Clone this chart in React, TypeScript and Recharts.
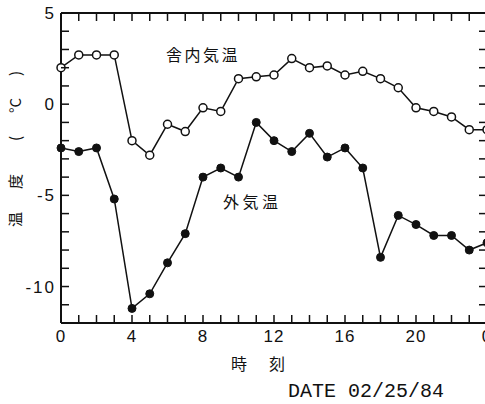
import React from "react";
import { LineChart, Line, XAxis, YAxis } from "recharts";

// hourly readings, 02/25/84
const hours = [0, 1, 2, 3, 4, 5, 6, 7, 8, 9, 10, 11, 12, 13, 14, 15, 16, 17, 18, 19, 20, 21, 22, 23, 24];
const insideTemp = [2.0, 2.7, 2.7, 2.7, -2.0, -2.8, -1.1, -1.5, -0.2, -0.4, 1.4, 1.5, 1.6, 2.5, 2.0, 2.1, 1.6, 1.8, 1.4, 0.9, -0.2, -0.4, -0.7, -1.4, -1.4];
const outsideTemp = [-2.4, -2.6, -2.4, -5.2, -11.2, -10.4, -8.7, -7.1, -4.0, -3.5, -4.0, -1.0, -2.0, -2.6, -1.6, -2.9, -2.4, -3.5, -8.4, -6.1, -6.6, -7.2, -7.2, -8.0, -7.6];

const hourTicks = [0, 1, 2, 3, 4, 5, 6, 7, 8, 9, 10, 11, 12, 13, 14, 15, 16, 17, 18, 19, 20, 21, 22, 23, 24];
const hourLabels: Record<number, string> = { 0: "0", 4: "4", 8: "8", 12: "12", 16: "16", 20: "20", 24: "0" };
const tempTicks = [-12, -11, -10, -9, -8, -7, -6, -5, -4, -3, -2, -1, 0, 1, 2, 3, 4, 5];
const tempLabels: Record<number, string> = { 5: "5", 0: "0", [-5]: "-5", [-10]: "-10" };

const data = hours.map((h, i) => ({ hour: h, inside: insideTemp[i], outside: outsideTemp[i] }));

const INK = "#111";
const numFont = "'Liberation Sans', Arial, sans-serif";
const jpFont = "'Noto Sans CJK JP', sans-serif";

const BottomTick = (props: any) => {
    const { x, y, payload } = props;
    const label = hourLabels[payload.value];
    return (
        <g>
            <line x1={x} x2={x} y1={y} y2={y - 8} stroke={INK} strokeWidth={1.5} />
            {label !== undefined && (
                <text x={x} y={y + 19} textAnchor="middle" fontSize={17} letterSpacing={1} fontFamily={numFont} fill={INK}>
                    {label}
                </text>
            )}
        </g>
    );
};

const TopTick = (props: any) => {
    const { x, y } = props;
    return <line x1={x} x2={x} y1={y} y2={y + 8} stroke={INK} strokeWidth={1.5} />;
};

const LeftTick = (props: any) => {
    const { x, y, payload } = props;
    const label = tempLabels[payload.value];
    return (
        <g>
            <line x1={x} x2={x + 8} y1={y} y2={y} stroke={INK} strokeWidth={1.5} />
            {label !== undefined && (
                <text x={x - 5} y={y + 6} textAnchor="end" fontSize={17} letterSpacing={2} fontFamily={numFont} fill={INK}>
                    {label}
                </text>
            )}
        </g>
    );
};

const RightTick = (props: any) => {
    const { x, y } = props;
    return <line x1={x} x2={x - 8} y1={y} y2={y} stroke={INK} strokeWidth={1.5} />;
};

const OpenDot = (props: any) => (
    <circle cx={props.cx} cy={props.cy} r={4} fill="#fff" stroke={INK} strokeWidth={1.5} />
);
const FilledDot = (props: any) => (
    <circle cx={props.cx} cy={props.cy} r={4} fill={INK} stroke={INK} strokeWidth={1} />
);

const abs = (left: number, top: number): React.CSSProperties => ({
    position: "absolute",
    left,
    top,
    whiteSpace: "pre",
    color: INK,
    lineHeight: 1,
});

export default function App() {
    return (
        <div style={{ position: "fixed", left: 0, top: 0, width: 485, height: 404, overflow: "hidden", background: "#fff" }}>
            <LineChart width={510} height={404} data={data} margin={{ top: 12, right: 22, bottom: 51, left: 0 }}>
                <XAxis
                    dataKey="hour"
                    type="number"
                    domain={[0, 24]}
                    ticks={hourTicks}
                    interval={0}
                    height={30}
                    tickSize={0}
                    tickMargin={0}
                    tick={<BottomTick />}
                    axisLine={{ stroke: INK, strokeWidth: 2 }}
                />
                {/* top/right axes need a size > 0 or recharts skips them */}
                <XAxis
                    xAxisId="top"
                    orientation="top"
                    dataKey="hour"
                    type="number"
                    domain={[0, 24]}
                    ticks={hourTicks}
                    interval={0}
                    height={1}
                    tickSize={0}
                    tickMargin={0}
                    tick={<TopTick />}
                    axisLine={{ stroke: INK, strokeWidth: 2 }}
                />
                <YAxis
                    type="number"
                    domain={[-12, 5]}
                    ticks={tempTicks}
                    interval={0}
                    width={61}
                    tickSize={0}
                    tickMargin={0}
                    tick={<LeftTick />}
                    axisLine={{ stroke: INK, strokeWidth: 2 }}
                />
                <YAxis
                    yAxisId="right"
                    orientation="right"
                    type="number"
                    domain={[-12, 5]}
                    ticks={tempTicks}
                    interval={0}
                    width={1}
                    tickSize={0}
                    tickMargin={0}
                    tick={<RightTick />}
                    axisLine={{ stroke: INK, strokeWidth: 2 }}
                />
                {/* both series share the same scales; each references one of the mirror axes */}
                <Line
                    xAxisId="top"
                    dataKey="inside"
                    type="linear"
                    stroke={INK}
                    strokeWidth={1.5}
                    dot={<OpenDot />}
                    isAnimationActive={false}
                />
                <Line
                    yAxisId="right"
                    dataKey="outside"
                    type="linear"
                    stroke={INK}
                    strokeWidth={1.5}
                    dot={<FilledDot />}
                    isAnimationActive={false}
                />
            </LineChart>

            {/* annotations */}
            <div style={{ ...abs(166, 46), fontFamily: jpFont, fontSize: 16, letterSpacing: 2.5 }}>舎内気温</div>
            <div style={{ ...abs(223, 193), fontFamily: jpFont, fontSize: 16, letterSpacing: 3.5 }}>外気温</div>

            {/* y axis title, rotated */}
            <div
                style={{
                    position: "absolute",
                    left: 14 - 85,
                    top: 146 - 10,
                    width: 170,
                    height: 20,
                    transform: "rotate(-90deg)",
                    fontFamily: jpFont,
                    fontSize: 15,
                    color: INK,
                }}
            >
                <span style={{ position: "absolute", left: 4, top: 0 }}>温</span>
                <span style={{ position: "absolute", left: 42, top: 0 }}>度</span>
                <span style={{ position: "absolute", left: 90, top: 0 }}>(</span>
                <span style={{ position: "absolute", left: 118, top: 0 }}>°C</span>
                <span style={{ position: "absolute", left: 155, top: 0 }}>)</span>
            </div>

            {/* x axis title and date */}
            <div style={{ ...abs(231, 355), fontFamily: jpFont, fontSize: 16 }}>時</div>
            <div style={{ ...abs(269, 355), fontFamily: jpFont, fontSize: 16 }}>刻</div>
            <div style={{ ...abs(288, 382), fontFamily: "'Liberation Mono', 'Courier New', monospace", fontSize: 20 }}>
                DATE 02/25/84
            </div>
        </div>
    );
}
